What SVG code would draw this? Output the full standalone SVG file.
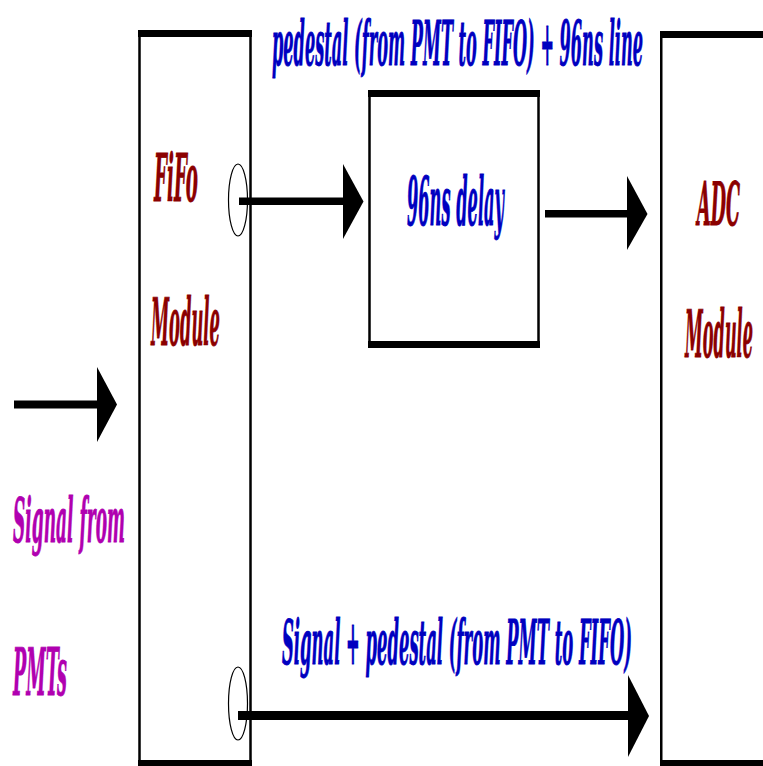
<svg xmlns="http://www.w3.org/2000/svg" width="763" height="766" viewBox="0 0 763 766">
<style>
.t{font-family:"DejaVu Serif","Liberation Serif",serif;font-weight:bold;font-style:italic;stroke-width:0.9;}
.red{fill:#8b0000;stroke:#8b0000}
.blue{fill:#0000c0;stroke:#0000c0}
.mag{fill:#b000b0;stroke:#b000b0}
.box{fill:none;stroke:#000;stroke-width:2.5}
.bar{fill:#000}
.ring{fill:none;stroke:#000;stroke-width:1.2}
</style>
<rect width="763" height="766" fill="#fff"/>
<g id="fifo">
<rect class="box" x="139.5" y="34" width="111" height="729"/>
<rect class="bar" x="138" y="30" width="114" height="7"/>
<rect class="bar" x="138" y="760" width="114" height="6"/>
<ellipse class="ring" cx="238" cy="200" rx="9.5" ry="36"/>
<ellipse class="ring" cx="238" cy="703.5" rx="9.5" ry="36.5"/>
<text class="t red" x="154" y="201" font-size="66" textLength="44" lengthAdjust="spacingAndGlyphs">FiFo</text>
<text class="t red" x="151" y="345" font-size="66" textLength="69" lengthAdjust="spacingAndGlyphs">Module</text>
</g>
<g id="delay">
<rect class="box" x="369.5" y="93" width="169" height="252"/>
<rect class="bar" x="368" y="90" width="172" height="7"/>
<rect class="bar" x="368" y="341" width="172" height="7"/>
<text class="t blue" x="407" y="225" font-size="68" textLength="97" lengthAdjust="spacingAndGlyphs">96ns delay</text>
</g>
<g id="adc">
<rect class="bar" x="660" y="34" width="2.5" height="730"/>
<rect class="bar" x="660" y="31" width="103" height="7"/>
<rect class="bar" x="660" y="760" width="103" height="6"/>
<text class="t red" x="697" y="225" font-size="59" textLength="43" lengthAdjust="spacingAndGlyphs">ADC</text>
<text class="t red" x="685" y="357" font-size="66" textLength="68" lengthAdjust="spacingAndGlyphs">Module</text>
</g>
<g id="labels">
<text class="t blue" x="272" y="65" font-size="62" textLength="371" lengthAdjust="spacingAndGlyphs">pedestal (from PMT to FIFO) + 96ns line</text>
<text class="t blue" x="282" y="664" font-size="62" textLength="350" lengthAdjust="spacingAndGlyphs">Signal + pedestal (from PMT to FIFO)</text>
<text class="t mag" x="13" y="542" font-size="61" textLength="112" lengthAdjust="spacingAndGlyphs">Signal from</text>
<text class="t mag" x="13" y="695" font-size="66" textLength="54" lengthAdjust="spacingAndGlyphs">PMTs</text>
</g>
<g id="connectors">
<rect class="bar" x="14" y="400.5" width="85" height="8"/>
<polygon class="bar" points="97,367 117,404.5 97,442"/>
<rect class="bar" x="239" y="197.5" width="106" height="7.5"/>
<polygon class="bar" points="343,164 363.5,201.5 343,239"/>
<rect class="bar" x="545" y="210" width="84" height="7.5"/>
<polygon class="bar" points="627,176 647.5,214 627,250"/>
<rect class="bar" x="238" y="711" width="392" height="9"/>
<polygon class="bar" points="628,675 649,716 628,757"/>
</g>
</svg>
